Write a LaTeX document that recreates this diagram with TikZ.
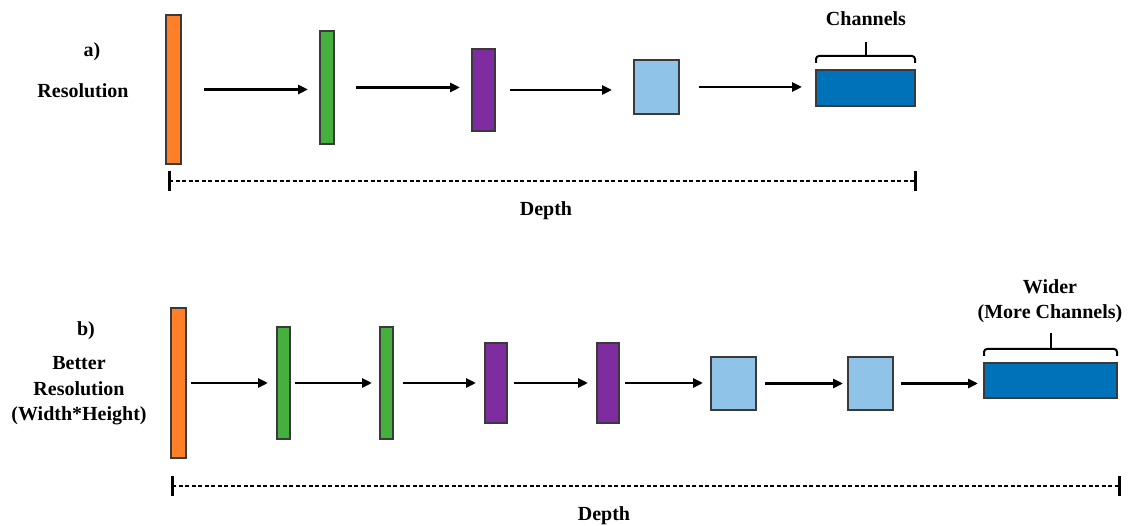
\documentclass[tikz,border=0pt]{standalone}
\usepackage{fontspec}
\setmainfont{Liberation Serif}
\usetikzlibrary{arrows.meta}
\definecolor{corange}{HTML}{FD7F28}
\definecolor{cgreen}{HTML}{45B03D}
\definecolor{cpurple}{HTML}{7F2CA0}
\definecolor{clblue}{HTML}{8FC4E8}
\definecolor{cdblue}{HTML}{0072BA}
\definecolor{cedge}{HTML}{3A3A3A}
\tikzset{
  layer/.style={draw=cedge, line width=1.2pt, inner sep=0pt, outer sep=0pt, minimum width=#1},
  lbl/.style={font=\fontsize{20}{25.5}\selectfont\bfseries, align=center, inner sep=0pt},
  arr/.style={line width=2.8pt, -{Triangle[length=10pt,width=9pt]}},
  depthline/.style={line width=1.5pt, dash pattern=on 4pt off 2.5pt},
  tick/.style={line width=3pt},
  brace/.style={line width=2pt, rounded corners=3pt}
}
\begin{document}
\begin{tikzpicture}[x=1pt,y=-1pt]
\useasboundingbox (0,0) rectangle (1128,526);
% ---------- a) ----------
\node[lbl] (la) at (92,52) {a)};
\node[lbl] (lres) at (83,91) {Resolution};
\node[layer=15pt, minimum height=149pt, fill=corange, anchor=north west] (ao) at (166,15) {};
\node[layer=14pt, minimum height=113pt, fill=cgreen, anchor=north west] (ag) at (320,31) {};
\node[layer=23pt, minimum height=82pt, fill=cpurple, anchor=north west] (ap) at (472,49) {};
\node[layer=45pt, minimum height=54pt, fill=clblue, anchor=north west] (al) at (634,60) {};
\node[layer=99pt, minimum height=36pt, fill=cdblue, anchor=north west] (ad) at (816,70) {};
\draw[arr, shorten <=23pt, shorten >=12pt] (ao.east) -- (ao.east -| ag.west);
\draw[arr, shorten <=22pt, shorten >=12pt] (ag.east) -- (ag.east -| ap.west);
\draw[arr, shorten <=15pt, shorten >=22pt] (ap.east) -- (ap.east -| al.west);
\draw[arr, shorten <=20pt, shorten >=14pt] (al.east) -- (al.east -| ad.west);
\draw[brace] ([yshift=7pt]ad.north west) -- ([yshift=14pt]ad.north west) -- ([yshift=14pt]ad.north east) -- ([yshift=7pt]ad.north east);
\draw[line width=2pt] ([yshift=14pt]ad.north) -- ([yshift=28pt]ad.north);
\node[lbl] (lch) at (866,19) {Channels};
\coordinate (das) at (169,181);
\coordinate (dae) at (915,181);
\draw[depthline] (das) -- (dae);
\draw[tick] ([yshift=10pt]das) -- ([yshift=-10pt]das);
\draw[tick] ([yshift=10pt]dae) -- ([yshift=-10pt]dae);
\node[lbl] (lda) at (546,211) {Depth};
% ---------- b) ----------
\node[lbl] (lb) at (86,331) {b)};
\node[lbl] (lbr) at (79,391) {Better\\Resolution\\(Width*Height)};
\node[layer=15pt, minimum height=150pt, fill=corange, anchor=north west] (bo) at (171,308) {};
\node[layer=13pt, minimum height=112pt, fill=cgreen, anchor=north west] (bg1) at (277,327) {};
\node[layer=13pt, minimum height=112pt, fill=cgreen, anchor=north west] (bg2) at (380,327) {};
\node[layer=22pt, minimum height=80pt, fill=cpurple, anchor=north west] (bp1) at (485,343) {};
\node[layer=22pt, minimum height=80pt, fill=cpurple, anchor=north west] (bp2) at (597,343) {};
\node[layer=45pt, minimum height=53pt, fill=clblue, anchor=north west] (bl1) at (711,357) {};
\node[layer=45pt, minimum height=53pt, fill=clblue, anchor=north west] (bl2) at (848,357) {};
\node[layer=133pt, minimum height=35pt, fill=cdblue, anchor=north west] (bd) at (984,363) {};
\draw[arr, shorten <=5pt, shorten >=9pt] (bo.east) -- (bo.east -| bg1.west);
\draw[arr, shorten <=5pt, shorten >=8pt] (bg1.east) -- (bg1.east -| bg2.west);
\draw[arr, shorten <=10pt, shorten >=9pt] (bg2.east) -- (bg2.east -| bp1.west);
\draw[arr, shorten <=7pt, shorten >=9pt] (bp1.east) -- (bp1.east -| bp2.west);
\draw[arr, shorten <=6pt, shorten >=8pt] (bp2.east) -- (bp2.east -| bl1.west);
\draw[arr, shorten <=9pt, shorten >=5pt] (bl1.east) -- (bl1.east -| bl2.west);
\draw[arr, shorten <=8pt, shorten >=6pt] (bl2.east) -- (bl2.east -| bd.west);
\draw[brace] ([yshift=7pt]bd.north west) -- ([yshift=14pt]bd.north west) -- ([yshift=14pt]bd.north east) -- ([yshift=7pt]bd.north east);
\draw[line width=2pt] ([yshift=14pt]bd.north) -- ([yshift=30pt]bd.north);
\node[lbl] (lw) at (1050,301) {Wider\\(More Channels)};
\coordinate (dbs) at (172,486);
\coordinate (dbe) at (1119,486);
\draw[depthline] (dbs) -- (dbe);
\draw[tick] ([yshift=10pt]dbs) -- ([yshift=-10pt]dbs);
\draw[tick] ([yshift=10pt]dbe) -- ([yshift=-10pt]dbe);
\node[lbl] (ldb) at (604,516) {Depth};
\end{tikzpicture}
\end{document}
